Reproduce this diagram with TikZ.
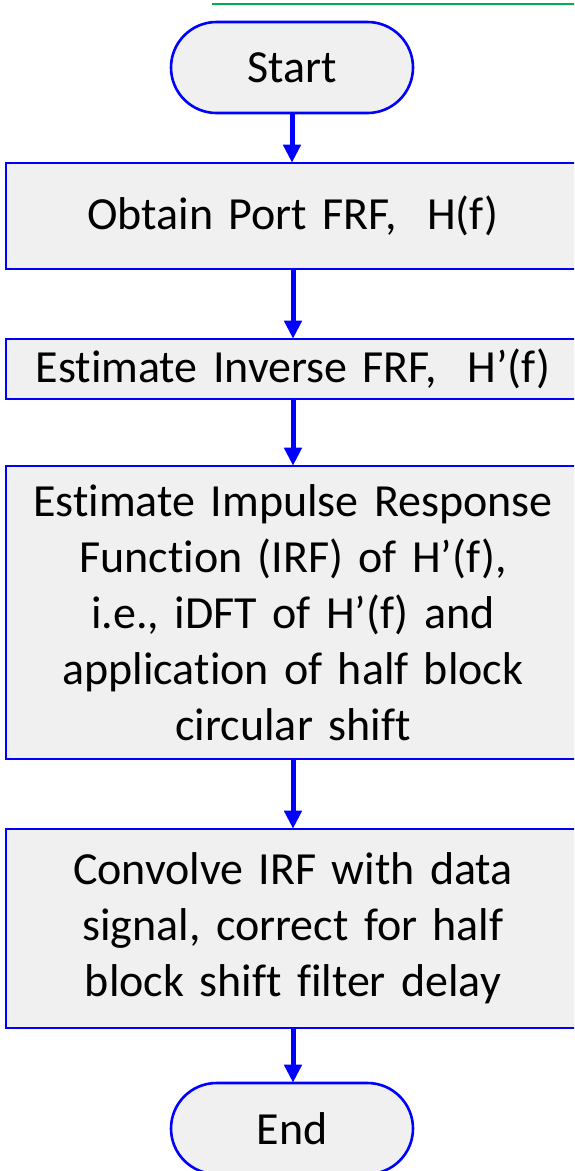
\documentclass[tikz,border=0pt]{standalone}
\usepackage{fontspec}
\setmainfont{Carlito}[Ligatures={NoCommon}]
\usetikzlibrary{arrows.meta,shapes.misc}
\definecolor{boxfill}{RGB}{240,240,240}
\definecolor{topgreen}{RGB}{0,176,80}
\tikzset{
  procbox/.style={draw=blue, fill=boxfill, line width=2.6pt, rectangle, minimum width=574pt, text width=560pt, align=center, inner sep=0pt, font=\fontsize{46}{56}\selectfont},
  termbox/.style={draw=blue, fill=boxfill, line width=2.6pt, rounded rectangle, minimum width=242pt, minimum height=91pt, inner sep=0pt, font=\fontsize{46}{56}\selectfont},
  flowarrow/.style={draw=blue, line width=5pt, -{Triangle[length=18pt,width=17pt]}, shorten >=-1pt}
}
\begin{document}
\begin{tikzpicture}[x=1pt,y=-1pt]
\useasboundingbox (0,0) rectangle (574,1171);
\clip (0,0) rectangle (574,1171);
\fill[white] (0,0) rectangle (574,1171);
\coordinate (gl) at (212,4);
\coordinate (gr) at (580,4);
\draw[topgreen, line width=2.6pt] (gl) -- (gr);
\node[termbox] (start) at (292,67.5) {Start};
\node[procbox, minimum height=106pt] (b1) at (293,216) {Obtain Port FRF,\ \ H(f)};
\node[procbox, minimum height=60pt] (b2) at (293,369) {Estimate Inverse FRF,\ \ H’(f)};
\node[procbox, minimum height=293pt] (b3) at (293,612.5) {Estimate Impulse Response\\Function (IRF) of H’(f),\\i.e., iDFT of H’(f) and\\application of half block\\circular shift};
\node[procbox, minimum height=199pt] (b4) at (293,928.5) {Convolve IRF with data\\signal, correct for half\\block shift filter delay};
\node[termbox] (end) at (292,1128.5) {End};
\draw[flowarrow] (start.south) -- (start.south |- b1.north);
\draw[flowarrow] (b1.south) -- (b2.north);
\draw[flowarrow] (b2.south) -- (b3.north);
\draw[flowarrow] (b3.south) -- (b4.north);
\draw[flowarrow] (b4.south) -- (end.north -| b4.south);
\end{tikzpicture}
\end{document}
